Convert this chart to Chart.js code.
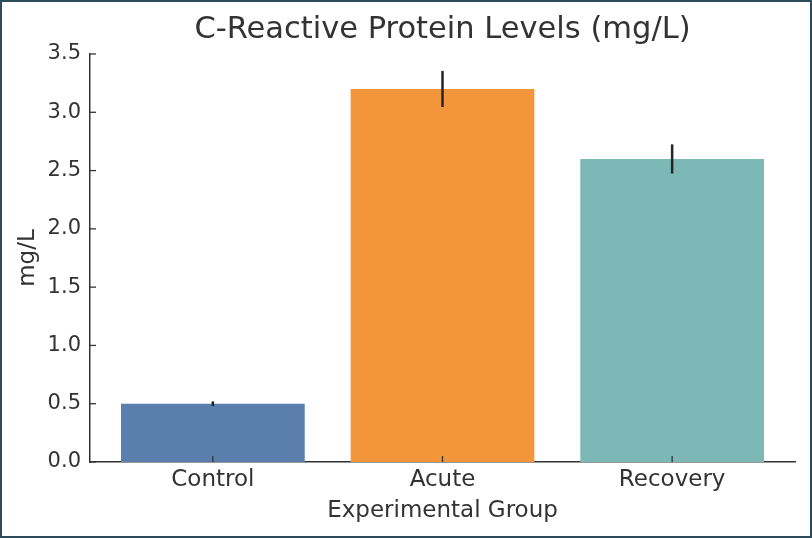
<!DOCTYPE html>
<html>
<head>
<meta charset="utf-8">
<script src="https://cdn.jsdelivr.net/npm/chart.js@4.4.0/dist/chart.umd.min.js"></script>
<style>
  html, body { margin: 0; padding: 0; background: #fff; }
  #wrap { width: 812px; height: 538px; box-sizing: border-box; border: 2px solid #2b4a5a; background: #fff; }
  canvas { display: block; }
</style>
</head>
<body>
<div id="wrap"><canvas id="crpChart" width="808" height="534"></canvas></div>
<script>
const groups = ["Control", "Acute", "Recovery"];
const groupPos = [0, 1, 2];
const crpMeans = [0.5, 3.2, 2.6];
const crpErrors = [0.02, 0.155, 0.125];
const barColors = ["#5a7fad", "#f3953b", "#7cb9b6"];
const yTicks = [0, 0.5, 1.0, 1.5, 2.0, 2.5, 3.0, 3.5];

const textColor = "#333333";
const font = "'DejaVu Sans', sans-serif";

// title centred over the plot area, like matplotlib
const titlePlugin = {
  id: "axesTitle",
  afterDraw(chart) {
    const ctx = chart.ctx;
    const area = chart.chartArea;
    ctx.save();
    ctx.font = "30.5px " + font;
    ctx.fillStyle = textColor;
    ctx.textAlign = "center";
    ctx.textBaseline = "middle";
    ctx.fillText("C-Reactive Protein Levels (mg/L)", (area.left + area.right) / 2, 28);
    ctx.restore();
  }
};

// error bars and inward tick marks
const errorBarPlugin = {
  id: "errorBars",
  afterDatasetsDraw(chart) {
    const ctx = chart.ctx;
    const x = chart.scales.x;
    const y = chart.scales.y;
    ctx.save();
    ctx.strokeStyle = "#262626";
    ctx.lineWidth = 2.5;
    groupPos.forEach(function (p, i) {
      const px = x.getPixelForValue(p);
      ctx.beginPath();
      ctx.moveTo(px, y.getPixelForValue(crpMeans[i] - crpErrors[i]));
      ctx.lineTo(px, y.getPixelForValue(crpMeans[i] + crpErrors[i]));
      ctx.stroke();
    });

    ctx.strokeStyle = textColor;
    ctx.lineWidth = 1.3;
    yTicks.forEach(function (v) {
      const py = y.getPixelForValue(v);
      ctx.beginPath();
      ctx.moveTo(x.left, py);
      ctx.lineTo(x.left + 6, py);
      ctx.stroke();
    });
    groupPos.forEach(function (p) {
      const px = x.getPixelForValue(p);
      ctx.beginPath();
      ctx.moveTo(px, y.bottom);
      ctx.lineTo(px, y.bottom - 6);
      ctx.stroke();
    });
    ctx.restore();
  }
};

new Chart(document.getElementById("crpChart"), {
  type: "bar",
  data: {
    datasets: [{
      data: groupPos.map(function (p, i) { return { x: p, y: crpMeans[i] }; }),
      backgroundColor: barColors,
      borderWidth: 0,
      barPercentage: 0.8,
      categoryPercentage: 1.0
    }]
  },
  options: {
    responsive: false,
    animation: false,
    layout: { padding: { top: 52, right: 15, left: 0, bottom: 0 } },
    plugins: {
      legend: { display: false },
      tooltip: { enabled: false },
      title: { display: false }
    },
    scales: {
      x: {
        type: "linear",
        min: -0.535,
        max: 2.535,
        offset: false,
        grid: { display: false, drawTicks: false, offset: false },
        border: { display: true, color: textColor, width: 1.5 },
        afterBuildTicks(scale) {
          scale.ticks = groupPos.map(function (p) { return { value: p }; });
        },
        ticks: {
          color: textColor,
          font: { family: font, size: 23 },
          padding: 4,
          callback: function (v) { return groups[v]; }
        },
        title: {
          display: true,
          text: "Experimental Group",
          color: textColor,
          font: { family: font, size: 23 },
          padding: { top: 0, bottom: 11 }
        },
        afterFit(scale) { scale.height = 74; }
      },
      y: {
        min: 0,
        max: 3.5,
        grid: { display: false, drawTicks: false },
        border: { display: true, color: textColor, width: 1.5 },
        afterBuildTicks(scale) {
          scale.ticks = yTicks.map(function (v) { return { value: v }; });
        },
        ticks: {
          color: textColor,
          font: { family: font, size: 21 },
          padding: 9,
          callback: function (v) { return Number(v).toFixed(1); }
        },
        title: {
          display: true,
          text: "mg/L",
          color: textColor,
          font: { family: font, size: 23 },
          padding: { top: 12, bottom: 0 }
        },
        afterFit(scale) { scale.width = 88; }
      }
    }
  },
  plugins: [titlePlugin, errorBarPlugin]
});
</script>
</body>
</html>
